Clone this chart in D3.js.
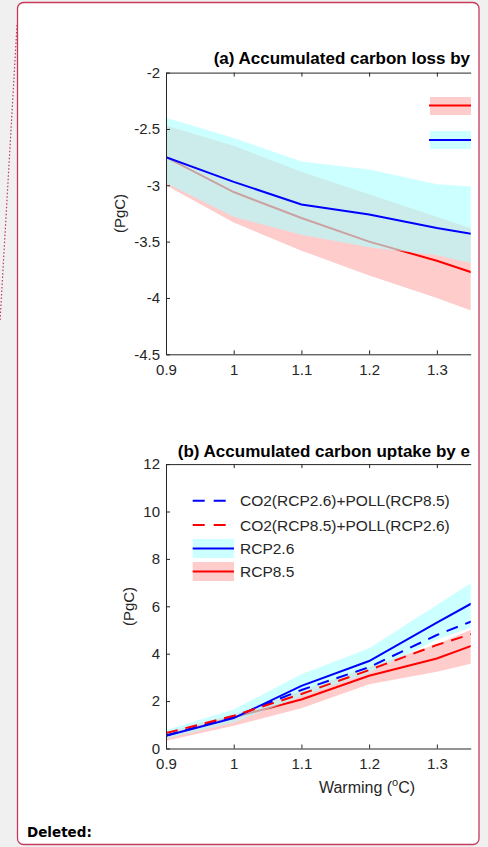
<!DOCTYPE html>
<html><head><meta charset="utf-8">
<script src="https://cdn.jsdelivr.net/npm/d3@7"></script>
<style>
html,body{margin:0;padding:0;background:#f0f0f0;}
svg{display:block;}
</style></head>
<body>
<script>
// ---------- data ----------
const warming = [0.9, 1.0, 1.1, 1.2, 1.3, 1.4];
const xTicks = [0.9, 1.0, 1.1, 1.2, 1.3];
const xTickLabels = ["0.9", "1", "1.1", "1.2", "1.3"];

// panel (a) accumulated carbon loss
const aTicks = [-2, -2.5, -3, -3.5, -4, -4.5];
const aTickLabels = ["-2", "-2.5", "-3", "-3.5", "-4", "-4.5"];
const aRcp26Mean = [-2.75, -2.97, -3.17, -3.26, -3.38, -3.48];
const aRcp26Lo   = [-2.98, -3.28, -3.44, -3.55, -3.62, -3.76];
const aRcp26Hi   = [-2.40, -2.58, -2.79, -2.86, -2.99, -3.03];
const aRcp85Mean = [-2.75, -3.06, -3.29, -3.50, -3.67, -3.87];
const aRcp85Lo   = [-3.00, -3.33, -3.58, -3.80, -4.00, -4.22];
const aRcp85Hi   = [-2.47, -2.65, -2.88, -3.08, -3.28, -3.48];

// panel (b) accumulated carbon uptake
const bTicks = [0, 2, 4, 6, 8, 10, 12];
const bTickLabels = ["0", "2", "4", "6", "8", "10", "12"];
const bRcp26Mean = [0.54, 1.28, 2.64, 3.69, 5.31, 6.89];
const bRcp26Lo   = [0.42, 1.10, 2.20, 3.20, 4.60, 5.60];
const bRcp26Hi   = [0.78, 1.65, 3.13, 4.23, 6.05, 7.89];
const bRcp85Mean = [0.55, 1.32, 2.07, 3.07, 3.80, 4.84];
const bRcp85Lo   = [0.33, 0.96, 1.70, 2.71, 3.24, 3.90];
const bRcp85Hi   = [0.70, 1.45, 2.45, 3.45, 4.40, 5.60];
const bCo2Rcp26PollRcp85 = [0.55, 1.33, 2.47, 3.43, 4.79, 5.91];
const bCo2Rcp85PollRcp26 = [0.65, 1.38, 2.30, 3.31, 4.37, 5.27];

const legendLabels = ["CO2(RCP2.6)+POLL(RCP8.5)", "CO2(RCP8.5)+POLL(RCP2.6)", "RCP2.6", "RCP8.5"];

// ---------- drawing ----------
const W = 488, H = 847;
const SANS = '"Liberation Sans",Arial,Helvetica,sans-serif';
const svg = d3.select("body").append("svg").attr("width", W).attr("height", H)
  .style("font-family", SANS);

// comment balloon
svg.append("line").attr("x1", 17).attr("y1", 25).attr("x2", 0).attr("y2", 322)
  .attr("stroke", "#c0375a").attr("stroke-width", 1.2).attr("stroke-dasharray", "1.5,2");
svg.append("rect").attr("x", 17.5).attr("y", 2.5).attr("width", 461.5).attr("height", 842)
  .attr("rx", 6).attr("fill", "#fff").attr("stroke", "#c73a5c").attr("stroke-width", 1.3);

const AX = "#262626";
const CYAN_FILL = "rgb(174,255,255)", CYAN_OP = 0.63;
const PINK_FILL = "rgb(255,204,204)";

const x = d3.scaleLinear().domain([0.9, 1.35]).range([166, 470.7]);

function panel(id, yDomain, yRange, ticks, tickLabels, series) {
  const y = d3.scaleLinear().domain(yDomain).range(yRange);
  const g = svg.append("g");
  const clipId = "clip" + id;
  svg.append("clipPath").attr("id", clipId).append("rect")
    .attr("x", x.range()[0]).attr("y", y.range()[1])
    .attr("width", x.range()[1] - x.range()[0]).attr("height", y.range()[0] - y.range()[1]);
  const pg = g.append("g").attr("clip-path", `url(#${clipId})`);
  const area = (lo, hi) => d3.area().x((d, i) => x(warming[i])).y0((d, i) => y(lo[i])).y1((d, i) => y(hi[i]))(warming);
  const line = v => d3.line().x((d, i) => x(warming[i])).y((d, i) => y(v[i]))(warming);

  pg.append("path").attr("d", area(series.r85lo, series.r85hi)).attr("fill", PINK_FILL);
  pg.append("path").attr("d", line(series.r85)).attr("fill", "none").attr("stroke", "#ff0000").attr("stroke-width", 2);
  pg.append("path").attr("d", area(series.r26lo, series.r26hi)).attr("fill", CYAN_FILL).attr("fill-opacity", CYAN_OP);
  pg.append("path").attr("d", line(series.r26)).attr("fill", "none").attr("stroke", "#0000ff").attr("stroke-width", 2);
  if (series.dashB) {
    pg.append("path").attr("d", line(series.dashB)).attr("fill", "none").attr("stroke", "#0000ff")
      .attr("stroke-width", 2).attr("stroke-dasharray", "12,8");
    pg.append("path").attr("d", line(series.dashR)).attr("fill", "none").attr("stroke", "#ff0000")
      .attr("stroke-width", 2).attr("stroke-dasharray", "12,8");
  }

  // axes
  const yAxis = d3.axisLeft(y).tickValues(ticks).tickFormat((d, i) => tickLabels[i])
    .tickSizeInner(-4).tickSizeOuter(0).tickPadding(6);
  const xAxisB = d3.axisBottom(x).tickValues(xTicks).tickFormat((d, i) => xTickLabels[i])
    .tickSizeInner(-4).tickSizeOuter(0).tickPadding(10);
  const xAxisT = d3.axisTop(x).tickValues(xTicks).tickFormat("")
    .tickSizeInner(-4).tickSizeOuter(0);
  const style = sel => {
    sel.attr("font-family", null).attr("font-size", null);
    sel.selectAll("path,line").attr("stroke", AX).attr("stroke-width", 1);
    sel.selectAll("text").attr("fill", AX).style("font-size", "15px").style("font-family", SANS);
  };
  g.append("g").attr("transform", `translate(${x.range()[0]},0)`).call(yAxis).call(style);
  g.append("g").attr("transform", `translate(0,${y.range()[0]})`).call(xAxisB).call(style);
  g.append("g").attr("transform", `translate(0,${y.range()[1]})`).call(xAxisT).call(style);
  return {g, y};
}

// panel (a)
panel("a", [-4.5, -2], [354.3, 72.6], aTicks, aTickLabels,
  {r26: aRcp26Mean, r26lo: aRcp26Lo, r26hi: aRcp26Hi, r85: aRcp85Mean, r85lo: aRcp85Lo, r85hi: aRcp85Hi});
svg.append("text").attr("x", 470).attr("y", 64).attr("text-anchor", "end")
  .attr("font-size", 17).attr("font-weight", "bold").attr("fill", "#000")
  .text("(a) Accumulated carbon loss by");
svg.append("text").attr("transform", "translate(125,213.5) rotate(-90)").attr("text-anchor", "middle")
  .attr("font-size", 15).attr("fill", AX).text("(PgC)");
// legend (a) (cut off)
svg.append("rect").attr("x", 430).attr("y", 97).attr("width", 41).attr("height", 18).attr("fill", PINK_FILL);
svg.append("line").attr("x1", 429).attr("x2", 471).attr("y1", 105.5).attr("y2", 105.5).attr("stroke", "#ff0000").attr("stroke-width", 2);
svg.append("rect").attr("x", 430).attr("y", 131).attr("width", 41).attr("height", 18).attr("fill", "rgb(204,255,255)");
svg.append("line").attr("x1", 429).attr("x2", 471).attr("y1", 140).attr("y2", 140).attr("stroke", "#0000ff").attr("stroke-width", 2);

// panel (b)
panel("b", [0, 12], [748.5, 464.1], bTicks, bTickLabels,
  {r26: bRcp26Mean, r26lo: bRcp26Lo, r26hi: bRcp26Hi, r85: bRcp85Mean, r85lo: bRcp85Lo, r85hi: bRcp85Hi,
   dashB: bCo2Rcp26PollRcp85, dashR: bCo2Rcp85PollRcp26});
svg.append("text").attr("x", 470).attr("y", 457).attr("text-anchor", "end")
  .attr("font-size", 17).attr("font-weight", "bold").attr("fill", "#000")
  .text("(b) Accumulated carbon uptake by e");
svg.append("text").attr("transform", "translate(134,606.5) rotate(-90)").attr("text-anchor", "middle")
  .attr("font-size", 15).attr("fill", AX).text("(PgC)");
const xl = svg.append("text").attr("x", 367).attr("y", 793).attr("text-anchor", "middle")
  .attr("font-size", 16).attr("fill", AX);
xl.append("tspan").text("Warming (");
xl.append("tspan").attr("dy", -7).attr("font-size", 11).text("o");
xl.append("tspan").attr("dy", 7).text("C)");

// legend (b)
const lg = svg.append("g");
const legRows = [
  {y: 500.7, base: 506, color: "#0000ff", dash: "12,9", patch: null},
  {y: 525, base: 530.5, color: "#ff0000", dash: "12,9", patch: null},
  {y: 548.5, base: 554, color: "#0000ff", dash: null, patch: "rgb(204,255,255)"},
  {y: 571.5, base: 577, color: "#ff0000", dash: null, patch: PINK_FILL}
];
legRows.forEach((r, i) => {
  if (r.patch) {
    lg.append("rect").attr("x", 192.7).attr("y", r.y - 9.5).attr("width", 41.3).attr("height", 19).attr("fill", r.patch);
    lg.append("line").attr("x1", 192.7).attr("x2", 234).attr("y1", r.y).attr("y2", r.y)
      .attr("stroke", r.color).attr("stroke-width", 2);
  } else {
    lg.append("line").attr("x1", 192.7).attr("x2", 227.7).attr("y1", r.y).attr("y2", r.y)
      .attr("stroke", r.color).attr("stroke-width", 2).attr("stroke-dasharray", r.dash);
  }
  lg.append("text").attr("x", 240).attr("y", r.base).attr("font-size", 15.5).attr("fill", AX).text(legendLabels[i]);
});

// comment label
svg.append("text").attr("x", 27).attr("y", 837).style("font-family", '"DejaVu Sans",Verdana,sans-serif')
  .attr("font-weight", "bold").attr("font-size", 13.5).attr("fill", "#000").text("Deleted:");
</script>
</body></html>
